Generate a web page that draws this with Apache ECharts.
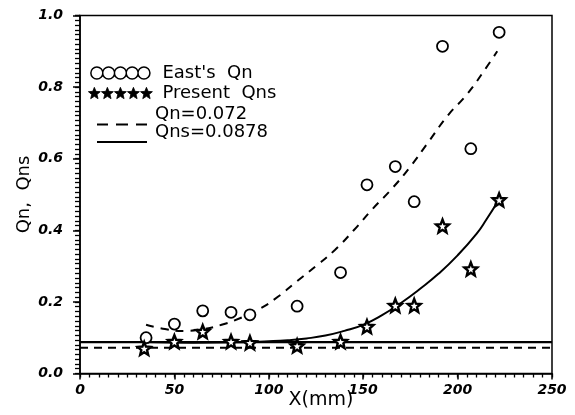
<!DOCTYPE html>
<html><head><meta charset="utf-8">
<script src="https://cdn.jsdelivr.net/npm/echarts@6/dist/echarts.min.js"></script>
<style>html,body{margin:0;padding:0;background:#fff}#c{width:575px;height:415px}</style>
</head><body><div id="c"></div>
<script>
// ---- data ----
const eastX   = [35, 50, 65, 80, 90, 115, 138, 152, 167, 177, 192, 207, 222];
const eastQn  = [0.10, 0.138, 0.175, 0.171, 0.164, 0.188, 0.282, 0.527, 0.578, 0.48, 0.914, 0.628, 0.953];
const presX   = [34, 50, 65, 80, 90, 115, 138, 152, 167, 177, 192, 207, 222];
const presQns = [0.07, 0.089, 0.117, 0.089, 0.086, 0.077, 0.089, 0.131, 0.19, 0.19, 0.412, 0.292, 0.485];
const fitQnX  = [35, 45, 55, 65, 75, 85, 95, 105, 115, 125, 135, 145, 155, 165, 175, 185, 195, 205, 215, 221];
const fitQnY  = [0.136, 0.124, 0.119, 0.124, 0.136, 0.155, 0.18, 0.215, 0.258, 0.30, 0.345, 0.40, 0.46, 0.515, 0.578, 0.65, 0.722, 0.78, 0.853, 0.9];
const fitQnsX = [35, 60, 85, 100, 110, 120, 130, 140, 150, 160, 170, 180, 190, 200, 210, 215, 222];
const fitQnsY = [0.088, 0.086, 0.087, 0.09, 0.093, 0.098, 0.106, 0.119, 0.136, 0.163, 0.197, 0.236, 0.279, 0.33, 0.39, 0.428, 0.487];
const qnConst  = 0.072;
const qnsConst = 0.0878;
const xSpan = [0, 250];
const ySpan = [0, 1];
const xMajor = 50, xMinor = 5;
const yMajor = 0.2, yMinorPerMajor = 15;
const seriesNames = ["East's  Qn", "Present  Qns", "Qn=0.072", "Qns=0.0878"];

// ---- symbol shapes (style only) ----
const starPts = [[50,0],[62.93,32.2],[97.55,34.55],[70.92,56.8],[79.39,90.45],[50,72],[20.61,90.45],[29.08,56.8],[2.45,34.55],[37.07,32.2]];
function starPath(dx){ return starPts.map((p,i)=>(i?'L':'M')+(p[0]+dx).toFixed(2)+','+p[1].toFixed(2)).join(' ')+' Z'; }
const starSymbol = 'path://' + starPath(0);
const starRow = 'path://' + [0,1,2,3,4].map(i=>starPath(i*104)).join(' ');
function circ(cx,cy,r){ return 'M'+(cx+r)+','+cy+' A'+r+','+r+' 0 1 1 '+(cx-r)+','+cy+' A'+r+','+r+' 0 1 1 '+(cx+r)+','+cy+' Z'; }
const circleRow = 'path://' + [0,1,2,3,4].map(i=>circ(6.5+i*12.75,6.5,6.5)).join(' ');
const dashIcon = 'path://M0,0 M0,19.5 L11,19.5 L11,21.5 L0,21.5 Z M19,19.5 L31,19.5 L31,21.5 L19,21.5 Z M39,19.5 L50,19.5 L50,21.5 L39,21.5 Z';
const solidIcon = 'path://M0,0 M0,19.5 L50,19.5 L50,21.5 L0,21.5 Z';

const zip = (a,b)=>a.map((v,i)=>[v,b[i]]);
const FONT = 'DejaVu Sans';
const labelStyle = {color:'#000', fontFamily: FONT, fontWeight:'bold', fontStyle:'italic', fontSize:14};
const blackLine = w => ({color:'#000', width:w});

const chart = echarts.init(document.getElementById('c'), null, {renderer:'canvas'});
chart.setOption({
  animation:false,
  backgroundColor:'#fff',
  grid:{left:80, right:23, top:15.5, bottom:41.5, containLabel:false, outerBoundsMode:'none',
        show:true, borderColor:'#000', borderWidth:1.5, backgroundColor:'transparent'},
  legend:[
    {orient:'vertical', left:83, top:59, padding:5, itemWidth:64, itemHeight:12, itemGap:2, selectedMode:false,
     textStyle:{color:'#000', fontFamily:FONT, fontSize:18, lineHeight:18, padding:[0,0,0,5]},
     data:[
       {name:seriesNames[0], icon:circleRow, itemStyle:{color:'#fff', borderColor:'#000', borderWidth:1.5}},
       {name:seriesNames[1], icon:starRow, itemStyle:{color:'#000', borderColor:'#000', borderWidth:0.8}}
     ]},
    {orient:'vertical', left:92, top:99, padding:5, itemWidth:50, itemHeight:22, itemGap:-4, selectedMode:false,
     textStyle:{color:'#000', fontFamily:FONT, fontSize:18, lineHeight:18, padding:[0,0,0,3]},
     data:[
       {name:seriesNames[2], icon:dashIcon, itemStyle:{color:'#000', borderWidth:0}},
       {name:seriesNames[3], icon:solidIcon, itemStyle:{color:'#000', borderWidth:0}}
     ]}
  ],
  xAxis:[
    {type:'value', min:xSpan[0], max:xSpan[1], interval:xMajor, position:'bottom',
    name:'X(mm)', nameLocation:'middle', nameGap:17, nameMoveOverlap:false,
    nameTextStyle:{color:'#000', fontFamily:FONT, fontSize:19, padding:[0,0,0,10]},
    axisLine:{show:true, onZero:false, lineStyle:blackLine(1.5)},
    axisTick:{show:true, inside:false, length:6, lineStyle:blackLine(1.5)},
    splitLine:{show:false},
    axisLabel:Object.assign({margin:10}, labelStyle)},
    {type:'value', min:xSpan[0], max:xSpan[1], interval:xMinor, position:'bottom', offset:0,
    axisLine:{show:false}, axisLabel:{show:false}, splitLine:{show:false},
    axisTick:{show:true, inside:false, length:4, lineStyle:blackLine(1.3)}}
  ],
  yAxis:[
    {type:'value', min:ySpan[0], max:ySpan[1], interval:yMajor, position:'left',
    name:'Qn,  Qns', nameLocation:'middle', nameGap:47, nameMoveOverlap:false,
    nameTextStyle:{color:'#000', fontFamily:FONT, fontSize:18},
    axisLine:{show:true, onZero:false, lineStyle:blackLine(1.5)},
    axisTick:{show:true, inside:false, length:7, lineStyle:blackLine(1.5)},
    splitLine:{show:false},
    axisLabel:Object.assign({margin:17, formatter:v=>v.toFixed(1)}, labelStyle)},
    {type:'value', min:ySpan[0], max:ySpan[1], interval:yMajor/yMinorPerMajor, position:'left', offset:0,
    axisLine:{show:false}, axisLabel:{show:false}, splitLine:{show:false},
    axisTick:{show:true, inside:false, length:5, lineStyle:blackLine(1.3)}}
  ],
  series:[
    {name:seriesNames[2], type:'line', data:[[xSpan[0],qnConst],[xSpan[1],qnConst]], symbol:'none', z:2,
     lineStyle:{color:'#000', width:2, type:[8,6]}, itemStyle:{color:'#000'}},
    {name:seriesNames[3], type:'line', data:[[xSpan[0],qnsConst],[xSpan[1],qnsConst]], symbol:'none', z:2,
     lineStyle:{color:'#000', width:2.2, type:'solid'}, itemStyle:{color:'#000'}},
    {name:'fitQn', type:'line', data:zip(fitQnX, fitQnY), symbol:'none', smooth:true, z:2,
     lineStyle:{color:'#000', width:2, type:[8,7]}},
    {name:'fitQns', type:'line', data:zip(fitQnsX, fitQnsY), symbol:'none', smooth:true, z:2,
     lineStyle:{color:'#000', width:2, type:'solid'}},
    {name:seriesNames[0], type:'scatter', data:zip(eastX, eastQn), symbol:'circle', symbolSize:11, z:4,
     itemStyle:{color:'#fff', borderColor:'#000', borderWidth:1.8, opacity:1}},
    {name:seriesNames[1], type:'scatter', data:zip(presX, presQns), symbol:starSymbol, symbolSize:13, z:5,
     itemStyle:{color:'#fff', borderColor:'#000', borderWidth:2.4, opacity:1}}
  ]
});
</script></body></html>
